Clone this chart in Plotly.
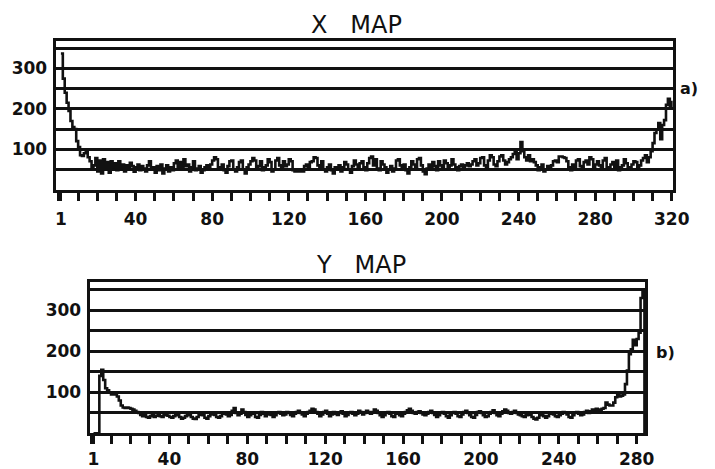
import plotly.graph_objects as go

# ---------------- data ----------------
x_map_counts = [
    337, 275, 240, 215, 195, 170, 155, 150, 120, 105, 85, 83, 90, 92, 80, 70, 55, 60, 78, 45,
    72, 40, 75, 50, 68, 42, 70, 55, 65, 48, 70, 52, 62, 45, 60, 50, 66, 58, 44, 55,
    62, 48, 58, 52, 45, 60, 70, 50, 55, 42, 58, 48, 62, 40, 52, 60, 45, 55, 48, 65,
    72, 55, 68, 50, 75, 58, 62, 45, 55, 70, 48, 52, 58, 42, 48, 55, 60, 50, 62, 72,
    80, 75, 55, 50, 62, 48, 42, 58, 70, 72, 50, 45, 55, 68, 72, 50, 40, 55, 62, 70,
    78, 72, 50, 58, 70, 48, 55, 60, 75, 68, 45, 50, 72, 78, 60, 55, 70, 58, 62, 75,
    70, 48, 45, 45, 45, 45, 45, 58, 62, 55, 68, 70, 80, 78, 60, 55, 70, 50, 45, 55,
    62, 48, 40, 55, 52, 60, 45, 55, 68, 62, 50, 42, 58, 72, 62, 50, 65, 70, 55, 48,
    65, 78, 82, 60, 75, 52, 48, 70, 62, 55, 42, 50, 58, 45, 52, 72, 75, 60, 50, 62,
    48, 40, 55, 70, 62, 55, 75, 78, 60, 45, 38, 52, 62, 50, 68, 58, 48, 70, 60, 55,
    72, 65, 52, 60, 75, 62, 55, 48, 58, 62, 55, 60, 65, 58, 62, 70, 75, 60, 65, 78,
    80, 60, 55, 72, 85, 80, 62, 58, 70, 82, 85, 72, 62, 68, 75, 80, 88, 92, 75, 90,
    118, 95, 80, 72, 85, 70, 75, 68, 60, 48, 55, 62, 45, 50, 58, 55, 60, 70, 72, 68,
    82, 82, 80, 78, 70, 55, 48, 62, 55, 72, 75, 58, 50, 68, 72, 62, 80, 75, 55, 62,
    70, 60, 52, 72, 78, 55, 50, 62, 68, 55, 72, 48, 55, 60, 75, 65, 50, 55, 62, 70,
    68, 52, 60, 72, 78, 85, 68, 80, 95, 115, 140, 148, 165, 125, 160, 172, 210, 225, 205, 220,
]

y_map_counts = [
    0, 0, 0, 140, 155, 130, 110, 105, 100, 95, 95, 98, 90, 80, 68, 63, 62, 63, 62, 60,
    58, 55, 52, 50, 45, 42, 44, 40, 38, 42, 44, 40, 43, 45, 42, 40, 44, 46, 43, 40,
    38, 42, 45, 44, 40, 36, 38, 42, 45, 44, 40, 36, 35, 40, 45, 48, 44, 38, 36, 42,
    46, 48, 45, 40, 38, 42, 48, 50, 46, 42, 45, 55, 62, 50, 44, 48, 58, 52, 45, 40,
    44, 50, 48, 40, 38, 45, 52, 48, 42, 46, 50, 45, 40, 44, 50, 52, 48, 44, 46, 52,
    50, 45, 42, 48, 52, 55, 50, 46, 42, 48, 52, 55, 60, 58, 52, 48, 42, 46, 52, 55,
    48, 42, 46, 52, 48, 45, 50, 54, 48, 42, 45, 50, 52, 48, 44, 48, 55, 52, 46, 50,
    55, 52, 48, 52, 58, 55, 50, 44, 40, 44, 50, 52, 48, 42, 40, 48, 50, 44, 42, 48,
    52, 56, 60, 55, 50, 48, 52, 54, 50, 46, 44, 48, 52, 55, 50, 45, 40, 44, 50, 52,
    48, 42, 38, 44, 50, 52, 48, 42, 40, 46, 52, 55, 50, 44, 40, 38, 45, 52, 54, 50,
    44, 40, 42, 48, 52, 56, 50, 44, 42, 48, 54, 58, 55, 50, 48, 52, 55, 50, 46, 44,
    42, 40, 44, 50, 45, 40, 36, 34, 38, 44, 48, 42, 38, 42, 48, 50, 46, 42, 40, 44,
    48, 52, 50, 46, 40, 38, 44, 50, 52, 48, 44, 46, 52, 55, 50, 54, 58, 56, 60, 58,
    56, 60, 62, 75, 70, 68, 68, 75, 88, 95, 90, 92, 95, 120, 153, 193, 205, 228, 215, 230,
    245, 330, 350, 0,
]

x_map_channels = list(range(1, len(x_map_counts) + 1))
y_map_channels = list(range(1, len(y_map_counts) + 1))

x_tick_vals_top = [1, 40, 80, 120, 160, 200, 240, 280, 320]
x_tick_text_top = ["1", "40", "80", "120", "160", "200", "240", "280", "320"]
x_tick_vals_bot = [1, 40, 80, 120, 160, 200, 240, 280]
x_tick_text_bot = ["1", "40", "80", "120", "160", "200", "240", "280"]
y_tick_vals = [100, 200, 300]
y_minor_grid = [50, 150, 250, 350]

# ---------------- figure ----------------
W, H = 715, 469
FONT = "DejaVu Sans"
INK = "#111111"

fig = go.Figure()
fig.add_trace(go.Scatter(x=x_map_channels, y=x_map_counts, mode="lines",
                         line=dict(color=INK, width=2.6, shape="hv"),
                         xaxis="x", yaxis="y", showlegend=False, hoverinfo="skip"))
fig.add_trace(go.Scatter(x=y_map_channels, y=y_map_counts, mode="lines",
                         line=dict(color=INK, width=2.6, shape="hv"),
                         xaxis="x2", yaxis="y2", showlegend=False, hoverinfo="skip"))

tickfont = dict(family=FONT, size=17, color=INK, weight="bold")

def xaxis(domain, rng, tv, tt, anchor, standoff):
    return dict(domain=domain, range=rng, anchor=anchor,
                showline=True, linewidth=3, linecolor=INK, mirror=True,
                showgrid=False, zeroline=False,
                tickmode="array", tickvals=tv, ticktext=tt,
                ticks="outside", ticklen=8, tickwidth=2.5, tickcolor=INK,
                tickfont=tickfont, ticklabelstandoff=standoff,
                minor=dict(tickmode="linear", tick0=0, dtick=10, ticks="outside",
                           ticklen=8, tickwidth=2.5, tickcolor=INK, showgrid=False))

def yaxis(domain, rng, anchor):
    return dict(domain=domain, range=rng, anchor=anchor,
                showline=True, linewidth=3, linecolor=INK, mirror=True,
                showgrid=True, gridcolor=INK, gridwidth=2.8, zeroline=False,
                tickmode="array", tickvals=y_tick_vals,
                ticks="", tickfont=tickfont, ticklabelstandoff=2,
                minor=dict(tickmode="array", tickvals=y_minor_grid, showgrid=True,
                           gridcolor=INK, gridwidth=2.8, ticks=""))

fig.update_layout(
    width=W, height=H,
    margin=dict(l=0, r=0, t=0, b=0),
    paper_bgcolor="white", plot_bgcolor="white",
    xaxis=xaxis([55 / W, 689 / W], [-1.8, 320.5], x_tick_vals_top, x_tick_text_top, "y", 4),
    yaxis=yaxis([(H - 192) / H, (H - 42) / H], [0, 367], "x"),
    xaxis2=xaxis([90 / W, 661 / W], [-1, 284.5], x_tick_vals_bot, x_tick_text_bot, "y2", 0),
    yaxis2=yaxis([(H - 439) / H, (H - 286) / H], [0, 368], "x2"),
)

ann = [
    dict(text="X   MAP", x=364 / W, y=1 - 25 / H, font=dict(family=FONT, size=24, color=INK)),
    dict(text="Y   MAP", x=369 / W, y=1 - 268 / H, font=dict(family=FONT, size=24, color=INK)),
    dict(text="a)", x=706 / W, y=1 - 90 / H, font=dict(family=FONT, size=16, color=INK, weight="bold")),
    dict(text="b)", x=682 / W, y=1 - 357 / H, font=dict(family=FONT, size=16, color=INK, weight="bold")),
]
for a in ann:
    fig.add_annotation(xref="paper", yref="paper", showarrow=False,
                       xanchor="center", yanchor="middle", **a)

fig.write_html("out.html")
